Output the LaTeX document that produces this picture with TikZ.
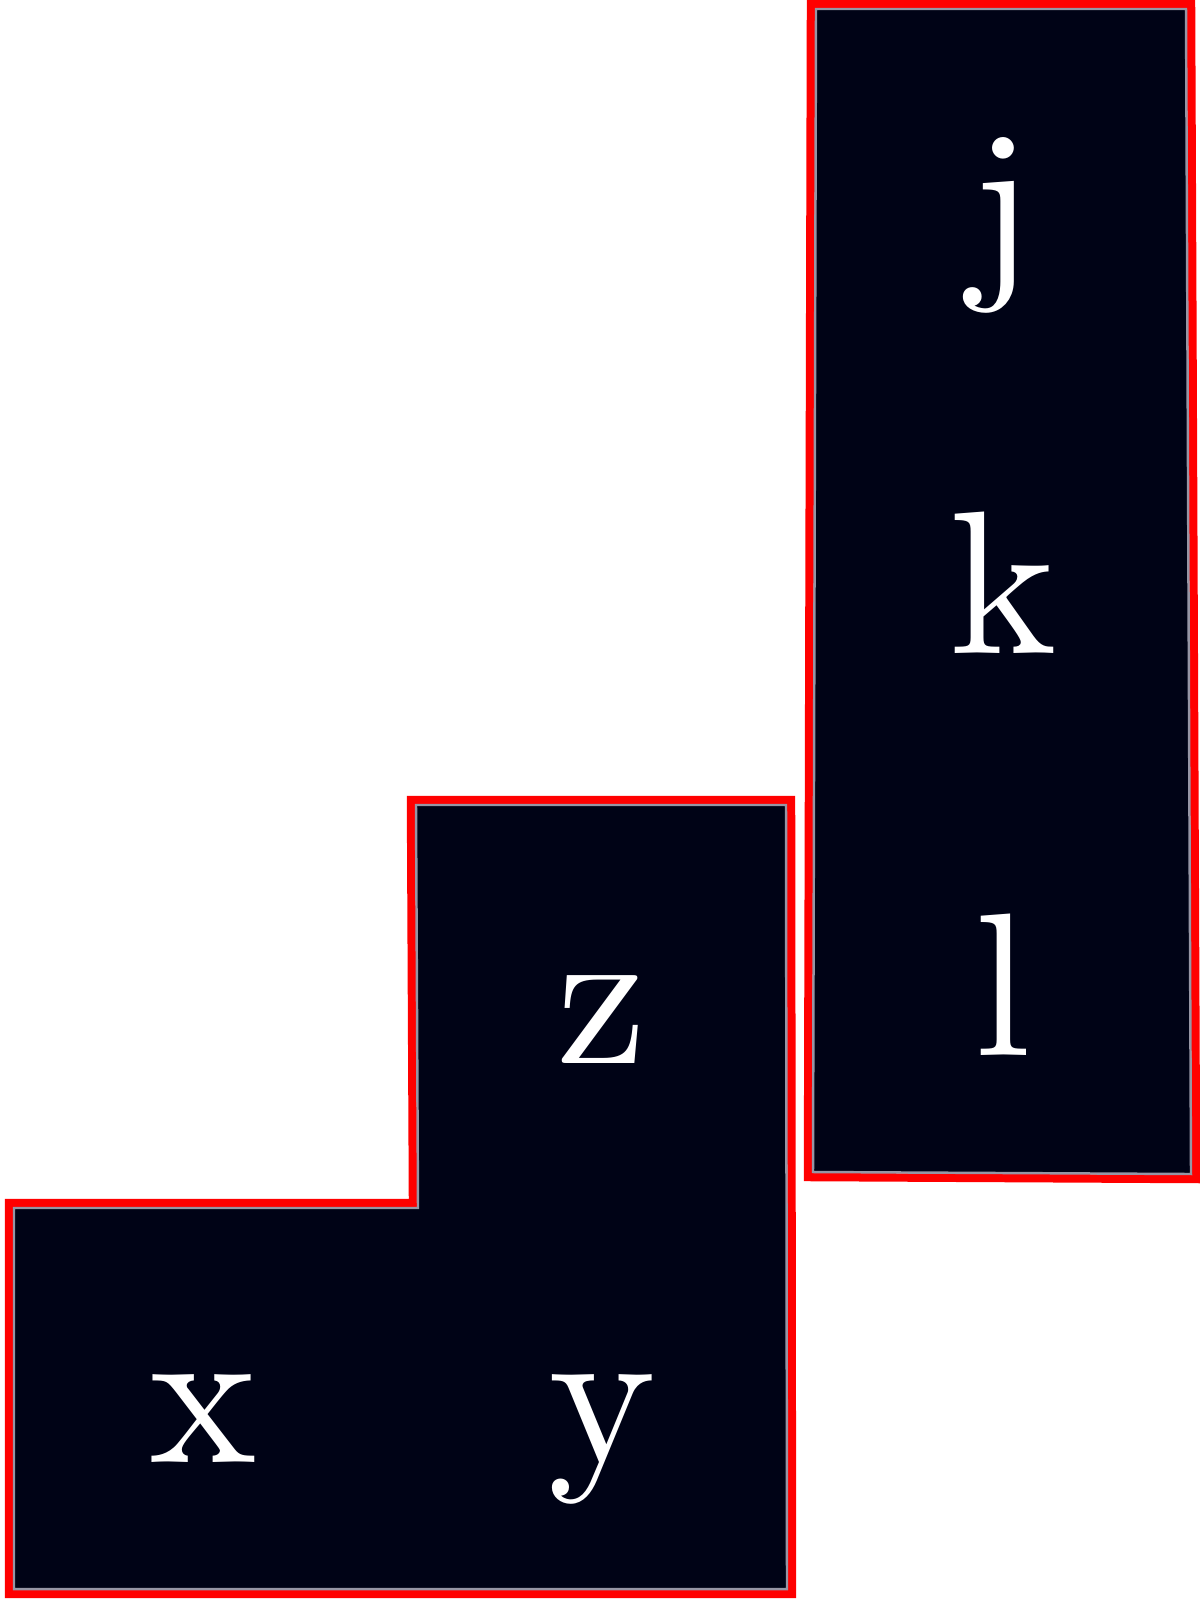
\documentclass[tikz,border=0pt]{standalone}
\usepackage{fontspec}
\newfontfamily\cellfont{lmroman10-regular.otf}
\definecolor{cellfill}{RGB}{0,3,22}
\definecolor{cellrim}{RGB}{150,150,165}
\tikzset{
  outline/.style={draw=red,line width=2.4pt,line join=miter},
  block/.style={fill=cellfill,draw=cellrim,line width=0.7pt},
  letter/.style={text=white,anchor=base,inner sep=0pt,font=\cellfont\fontsize{58}{60}\selectfont}
}
\begin{document}
\begin{tikzpicture}[x=0.01cm,y=-0.01cm]
      \useasboundingbox (0,0) rectangle (1200,1606);
      % L-shaped piece
      \draw[outline] (9,1594) -- (9,1203) -- (413,1203) -- (411,800) -- (791,800) -- (792,1594) -- cycle;
      \draw[block] (14,1589) -- (14,1208) -- (418,1208) -- (416,805) -- (786,805) -- (787,1589) -- cycle;
      % tall piece
      \draw[outline] (811,4) -- (1191,4) -- (1196,1179) -- (808,1177) -- cycle;
      \draw[block] (816,9) -- (1186,9) -- (1191,1174) -- (813,1172) -- cycle;
      \node[letter] (j) at (1003,271) {j};
      \node[letter] (k) at (1003,653) {k};
      \node[letter] (l) at (1003,1055) {l};
      \node[letter] (z) at (602,1063) {z};
      \node[letter] (x) at (203,1462) {x};
      \node[letter] (y) at (602,1462) {y};
    \end{tikzpicture}
\end{document}
